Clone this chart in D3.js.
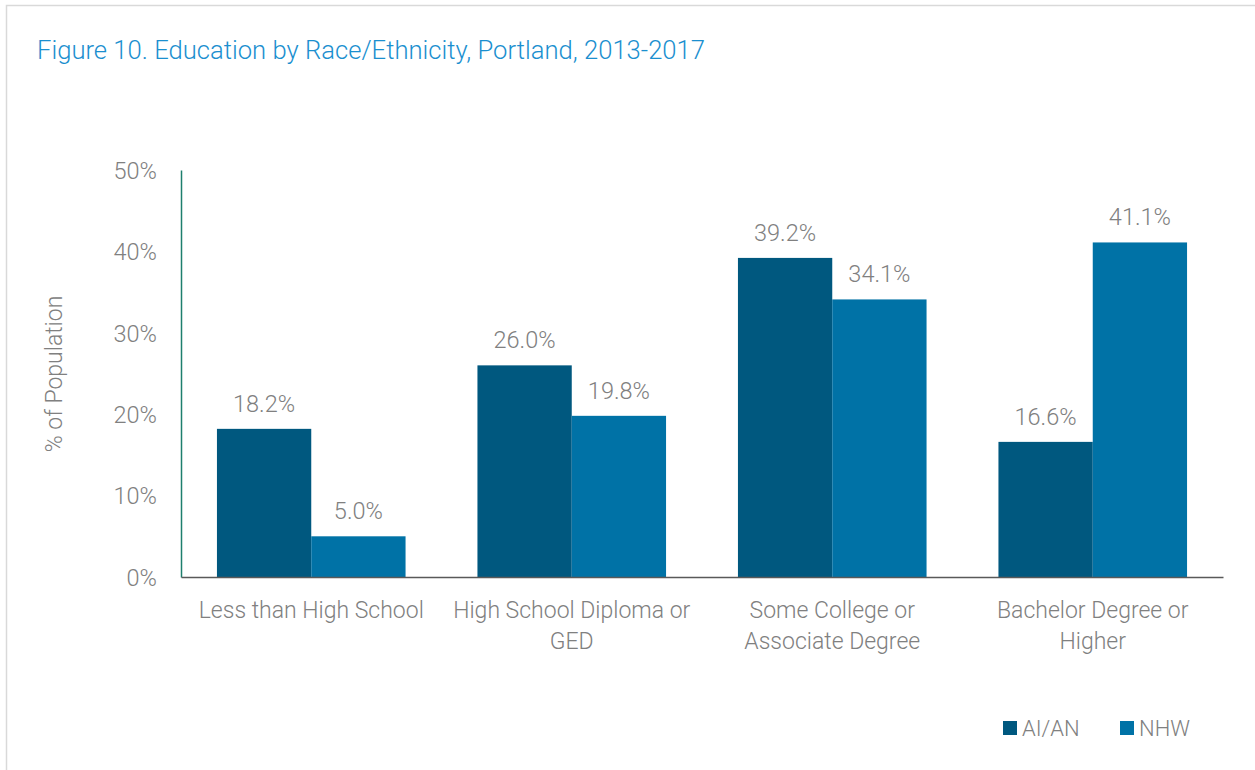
<!DOCTYPE html>
<html><head><meta charset="utf-8">
<script src="https://cdn.jsdelivr.net/npm/d3@7"></script>
<style>
body{margin:0;background:#fff;}
text{font-family:Roboto,"Liberation Sans",sans-serif;font-weight:300;}
</style></head>
<body><svg id="c" width="1255" height="770"></svg>
<script>
const categories = [["Less than High School"],["High School Diploma or","GED"],["Some College or","Associate Degree"],["Bachelor Degree or","Higher"]];
const seriesNames = ["AI/AN","NHW"];
const aian = [18.2, 26.0, 39.2, 16.6];
const nhw = [5.0, 19.8, 34.1, 41.1];
const yTicks = [0,10,20,30,40,50];
const colors = ["#00587f","#0072a6"];

(function(){
const svg = d3.select("#c");
svg.append("rect").attr("x",6.5).attr("y",5.5).attr("width",1260).attr("height",780)
  .attr("fill","none").attr("stroke","#d9d9d9").attr("stroke-width",1.5);

const title = svg.append("text").attr("x",37).attr("y",59).attr("fill","#1b8fcf").attr("font-size",25)
  .text("Figure 10. Education by Race/Ethnicity, Portland, 2013-2017");
if (title.node().getComputedTextLength()>0) title.attr("textLength",668).attr("lengthAdjust","spacingAndGlyphs");

const pL=181,pR=1223,pT=170,pB=577;
const x0 = d3.scaleBand().domain(d3.range(4)).range([pL,pR]).paddingInner(0.276).paddingOuter(0.138);
const x1 = d3.scaleBand().domain([0,1]).range([0,x0.bandwidth()]);
const y = d3.scaleLinear().domain([0,50]).range([pB,pT]);

const data = [aian,nhw];
const g = svg.append("g");
data.forEach((vals,s)=>{
  g.selectAll(".b"+s).data(vals).enter().append("rect")
    .attr("x",(d,i)=>x0(i)+x1(s)).attr("width",x1.bandwidth())
    .attr("y",d=>y(d)).attr("height",d=>y(0)-y(d)).attr("fill",colors[s]);
  g.selectAll(".l"+s).data(vals).enter().append("text")
    .attr("x",(d,i)=>x0(i)+x1(s)+x1.bandwidth()/2).attr("y",d=>y(d)-17)
    .attr("text-anchor","middle").attr("font-size",23.5).attr("fill","#808080")
    .text(d=>d.toFixed(1)+"%");
});

const ya = d3.axisLeft(y).tickValues(yTicks).tickSize(0).tickPadding(24).tickFormat(d=>d+"%");
const yg = svg.append("g").attr("transform",`translate(${pL},0)`).call(ya);
yg.select(".domain").attr("stroke","#1e7f6e").attr("stroke-width",1.5);
yg.selectAll("text").attr("font-size",23.5).attr("fill","#808080").attr("dy","0.35em");

const xa = d3.axisBottom(x0).tickSize(0).tickFormat("");
const xg = svg.append("g").attr("transform",`translate(0,${pB})`).call(xa);
xg.select(".domain").attr("stroke","#595959").attr("stroke-width",1.5);
categories.forEach((lines,i)=>{
  const cx = x0(i)+x0.bandwidth()/2;
  const t = svg.append("text").attr("x",cx).attr("y",618)
    .attr("text-anchor","middle").attr("font-size",23).attr("fill","#808080");
  lines.forEach((ln,k)=>t.append("tspan").attr("x",cx).attr("dy",k?31:0).text(ln));
});

svg.append("text").attr("transform","translate(62,374) rotate(-90)").attr("text-anchor","middle")
  .attr("font-size",23).attr("fill","#808080").text("% of Population");

const lx=[1003,1120];
seriesNames.forEach((n,i)=>{
  svg.append("rect").attr("x",lx[i]).attr("y",721).attr("width",14).attr("height",14).attr("fill",colors[i]);
  svg.append("text").attr("x",lx[i]+19).attr("y",736).attr("font-size",22).attr("fill","#808080").text(n);
});
})();
</script></body></html>
